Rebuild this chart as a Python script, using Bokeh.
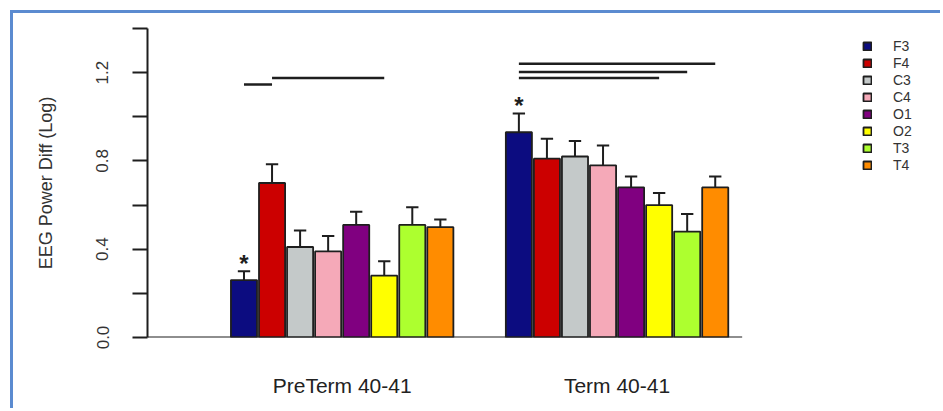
from bokeh.plotting import figure
from bokeh.models import FixedTicker, Legend, LegendItem, Range1d
from bokeh.core.properties import value
from bokeh.embed import file_html
from bokeh.resources import INLINE

# ---- data -------------------------------------------------------------
electrodes = ["F3", "F4", "C3", "C4", "O1", "O2", "T3", "T4"]
groups = ["PreTerm 40-41", "Term 40-41"]
preterm_mean = [0.26, 0.70, 0.41, 0.39, 0.51, 0.28, 0.51, 0.50]
preterm_sem = [0.04, 0.085, 0.075, 0.07, 0.06, 0.065, 0.08, 0.035]
term_mean = [0.93, 0.81, 0.82, 0.78, 0.68, 0.60, 0.48, 0.68]
term_sem = [0.085, 0.09, 0.07, 0.09, 0.05, 0.055, 0.08, 0.05]
colors = ["#0c0c80", "#cc0000", "#c4c9c9", "#f5a9b8",
          "#800080", "#ffff00", "#adff2f", "#ff8c00"]
y_ticks = [0.0, 0.2, 0.4, 0.6, 0.8, 1.0, 1.2, 1.4]
y_tick_labels = ["0.0", "", "0.4", "", "0.8", "", "1.2", ""]
# significance lines: (group index, from electrode, to electrode, height)
sig_lines = [(0, "F3", "F4", 1.146), (0, "F4", "O2", 1.176),
             (1, "F3", "T4", 1.240), (1, "F3", "T3", 1.203), (1, "F3", "O2", 1.176)]
starred = [(0, "F3"), (1, "F3")]

means = [preterm_mean, term_mean]
sems = [preterm_sem, term_sem]

# ---- layout in bar units (one unit = one bar slot) ---------------------
lead, group_gap, bar_w, cap_half = 2.94, 1.8, 0.93, 0.22
group_start = [lead, lead + len(electrodes) + group_gap]


def bar_x(g, i):
    return group_start[g] + i + 0.5


FONT = "Liberation Sans"
INK = "#1e1e1e"

W, H = 930, 398
LEFT, TOP, BOTTOM = 134, 15, 74
unit_px = 28.05
x_end = (W - LEFT) / unit_px

p = figure(width=W, height=H, output_backend="svg", toolbar_location=None,
           x_range=Range1d(0, x_end), y_range=Range1d(0, 1.4),
           min_border_left=LEFT, min_border_right=0,
           min_border_top=TOP, min_border_bottom=BOTTOM)
p.outline_line_color = None
p.grid.visible = False
p.styles = {"margin-left": "10px", "margin-top": "10px",
            "border-left": "3px solid #5b8bd0", "border-top": "3px solid #5b8bd0"}

# bars, one renderer per electrode so each gets a legend entry
items = []
for i, name in enumerate(electrodes):
    xs = [bar_x(g, i) for g in range(len(groups))]
    tops = [means[g][i] for g in range(len(groups))]
    r = p.vbar(x=xs, top=tops, bottom=0, width=bar_w, fill_color=colors[i],
               line_color=INK, line_width=1.8)
    items.append(LegendItem(label=name, renderers=[r]))

# error bars (upper only)
ex, ey0, ey1 = [], [], []
for g in range(len(groups)):
    for i in range(len(electrodes)):
        ex.append(bar_x(g, i))
        ey0.append(means[g][i])
        ey1.append(means[g][i] + sems[g][i])
p.segment(x0=ex, y0=ey0, x1=ex, y1=ey1, line_color=INK, line_width=2)
p.segment(x0=[x - cap_half for x in ex], y0=ey1, x1=[x + cap_half for x in ex], y1=ey1,
          line_color=INK, line_width=2)

# baseline
p.segment(x0=[0], y0=[0], x1=[21.2], y1=[0], line_color=INK, line_width=2)

# significance lines
p.segment(x0=[bar_x(g, electrodes.index(a)) for g, a, b, h in sig_lines],
          x1=[bar_x(g, electrodes.index(b)) for g, a, b, h in sig_lines],
          y0=[h for *_, h in sig_lines], y1=[h for *_, h in sig_lines],
          line_color=INK, line_width=2.5)

# asterisks above flagged bars
sx = [bar_x(g, electrodes.index(e)) for g, e in starred]
sy = [means[g][electrodes.index(e)] + sems[g][electrodes.index(e)] for g, e in starred]
p.text(x=sx, y=sy, text=["*"] * len(sx), text_font=value(FONT), text_font_size="24px",
       text_font_style="bold", text_align="center", text_baseline="middle",
       y_offset=-8, text_color=INK)

# y axis
ya = p.yaxis[0]
ya.ticker = FixedTicker(ticks=y_ticks, minor_ticks=[])
ya.major_label_overrides = {t: lab for t, lab in zip(y_ticks, y_tick_labels)}
ya.major_label_orientation = "vertical"
ya.major_label_text_font = FONT
ya.major_label_text_font_size = "17px"
ya.major_label_text_color = "#333333"
ya.major_label_standoff = 24
ya.major_tick_out = 15
ya.major_tick_in = 0
ya.major_tick_line_width = 2
ya.major_tick_line_color = INK
ya.axis_line_width = 2
ya.axis_line_color = INK
ya.minor_tick_line_color = None
ya.axis_label = "EEG Power Diff (Log)"
ya.axis_label_text_font = FONT
ya.axis_label_text_font_size = "18px"
ya.axis_label_text_font_style = "normal"
ya.axis_label_text_color = "#333333"
ya.axis_label_standoff = 38

# x axis: group names only
xa = p.xaxis[0]
centers = [group_start[g] + len(electrodes) / 2 for g in range(len(groups))]
xa.ticker = FixedTicker(ticks=centers, minor_ticks=[])
xa.major_label_overrides = {c: name for c, name in zip(centers, groups)}
xa.major_label_text_font = FONT
xa.major_label_text_font_size = "21px"
xa.major_label_text_color = "#222222"
xa.major_label_standoff = 30
xa.major_tick_line_color = None
xa.minor_tick_line_color = None
xa.axis_line_color = None

legend = Legend(items=items, location=(715, 164), padding=0, margin=0, spacing=1,
                glyph_width=10, glyph_height=10, label_height=14, label_standoff=21,
                label_text_font=FONT, label_text_font_size="14px",
                label_text_color="#333333", border_line_color=None,
                background_fill_alpha=0)
p.add_layout(legend)

open("out.html", "w").write(file_html(p, INLINE))
